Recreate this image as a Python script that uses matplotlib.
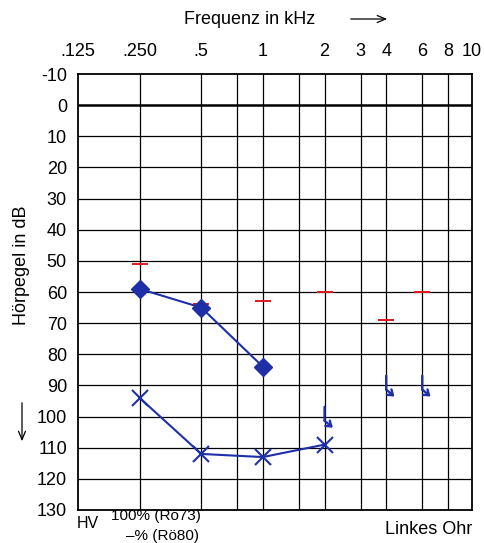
import numpy as np
import matplotlib.pyplot as plt
from matplotlib.transforms import offset_copy

plt.rcParams['font.family'] = ['Liberation Sans', 'DejaVu Sans']
plt.rcParams['axes.unicode_minus'] = False

# Frequenzachse (kHz)
tick_freqs = [0.125, 0.25, 0.5, 1, 2, 3, 4, 6, 8, 10]
tick_labels = ['.125', '.250', '.5', '1', '2', '3', '4', '6', '8', '10']
grid_freqs = [0.25, 0.5, 0.75, 1, 1.5, 2, 3, 4, 6, 8]
db_ticks = list(range(-10, 140, 10))

# Unbehaglichkeitsschwelle (rot)
ubs_f = [0.25, 0.5, 1, 2, 4, 6]
ubs_db = [51, 64, 63, 60, 69, 60]

# Luftleitung (Rauten)
ll_f = [0.25, 0.5, 1]
ll_db = [59, 65, 84]

# Knochenleitung (Kreuze)
kl_f = [0.25, 0.5, 1, 2]
kl_db = [94, 112, 113, 109]

# keine Antwort (Pfeile)
na_f = [2, 4, 6]
na_db = [100, 90, 90]

blue = '#1f2fa8'
red = '#e0191c'

fig = plt.figure(figsize=(4.85, 5.43), dpi=100)
ax = fig.add_axes([78 / 485, 1 - 510 / 543, 394 / 485, 436 / 543])
ax.set_xscale('log')
ax.set_xlim(0.125, 10.5)
ax.set_ylim(130, -10)

for f in grid_freqs:
    ax.axvline(f, color='black', lw=0.9, zorder=1)
for d in db_ticks[1:-1]:
    ax.axhline(d, color='black', lw=1.8 if d == 0 else 0.9, zorder=1)
for s in ax.spines.values():
    s.set_linewidth(1.3)

ax.xaxis.tick_top()
ax.set_xticks(tick_freqs[:-1] + [10.5])
ax.set_xticklabels(tick_labels)
ax.xaxis.set_minor_locator(plt.NullLocator())
ax.set_yticks(db_ticks)
ax.tick_params(length=0, labelsize=13, pad=8)
ax.tick_params(axis='x', pad=10)
for lab in ax.get_xticklabels()[:1]:
    lab.set_x(0.127)

ax.plot(ubs_f, ubs_db, ls='none', marker='_', ms=11, mew=1.4, color=red, zorder=3)
ax.plot(ll_f, ll_db, color=blue, lw=1.5, marker='D', ms=9, zorder=4)
ax.plot(kl_f, kl_db, color=blue, lw=1.5, marker='x', ms=12, mew=1.5, zorder=4)

# Pfeil-Symbol fuer "keine Antwort": senkrechter Strich, dann schraeg mit Spitze
for f, d in zip(na_f, na_db):
    top = offset_copy(ax.transData, fig=fig, x=0, y=7, units='points')
    knee = offset_copy(ax.transData, fig=fig, x=0, y=-3, units='points')
    tip = offset_copy(ax.transData, fig=fig, x=6, y=-8, units='points')
    ax.annotate('', xy=(f, d), xycoords=knee, xytext=(f, d), textcoords=top,
                arrowprops=dict(arrowstyle='-', lw=1.7, color=blue,
                                shrinkA=0, shrinkB=0), zorder=4)
    ax.annotate('', xy=(f, d), xycoords=tip, xytext=(f, d), textcoords=knee,
                arrowprops=dict(arrowstyle='->,head_length=0.35,head_width=0.25',
                                lw=1.7, color=blue, shrinkA=0, shrinkB=0), zorder=4)

# Beschriftungen
fig.text(250 / 485, 1 - 20 / 543, 'Frequenz in kHz', ha='center', va='center', fontsize=13)
fig.text(22 / 485, 1 - 265 / 543, 'Hörpegel in dB', ha='center', va='center',
         rotation=90, fontsize=13)
fig.text(88 / 485, 1 - 524 / 543, 'HV', ha='center', va='center', fontsize=11.5)
fig.text(156 / 485, 1 - 516 / 543, '100% (Rö73)', ha='center', va='center', fontsize=11)
fig.text(163 / 485, 1 - 536 / 543, '–% (Rö80)', ha='center', va='center', fontsize=11)
fig.text(472 / 485, 1 - 530 / 543, 'Linkes Ohr', ha='right', va='center', fontsize=13)
fig.add_artist(plt.Annotation('', xy=(390 / 485, 1 - 19 / 543), xycoords='figure fraction',
                              xytext=(348 / 485, 1 - 19 / 543), textcoords='figure fraction',
                              arrowprops=dict(arrowstyle='->,head_length=0.6,head_width=0.25',
                                              lw=0.9, color='black')))
fig.add_artist(plt.Annotation('', xy=(22 / 485, 1 - 444 / 543), xycoords='figure fraction',
                              xytext=(22 / 485, 1 - 400 / 543), textcoords='figure fraction',
                              arrowprops=dict(arrowstyle='->,head_length=0.6,head_width=0.25',
                                              lw=0.9, color='black')))

fig.savefig('out.png', dpi=100)
